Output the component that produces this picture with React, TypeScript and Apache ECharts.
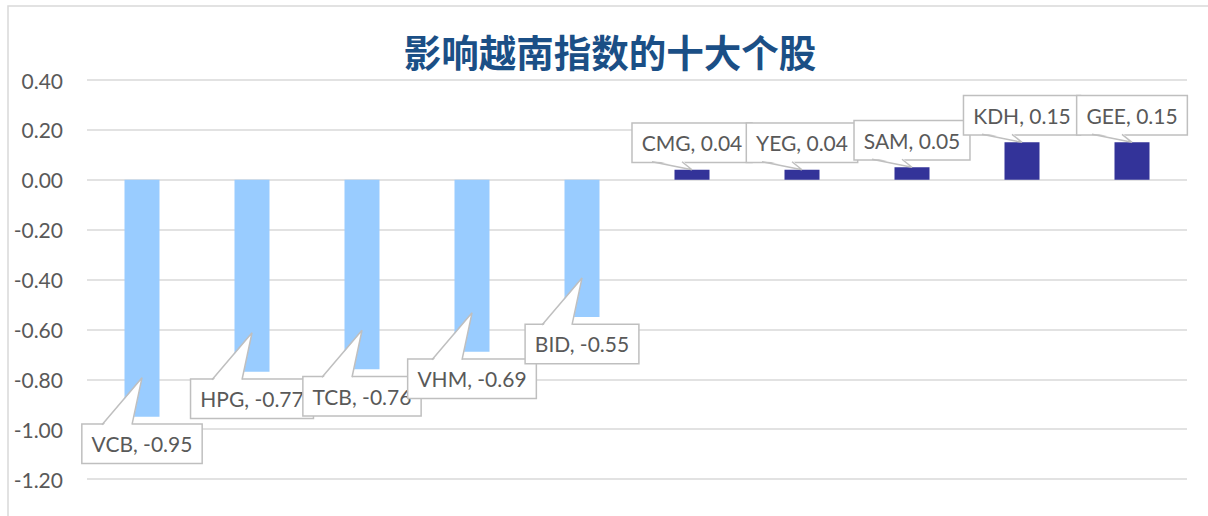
import React, { useEffect, useRef } from "react";
import * as echarts from "echarts";

const TITLE = "影响越南指数的十大个股";
const categories = ["VCB", "HPG", "TCB", "VHM", "BID", "CMG", "YEG", "SAM", "KDH", "GEE"];
const values = [-0.95, -0.77, -0.76, -0.69, -0.55, 0.04, 0.04, 0.05, 0.15, 0.15];
const yTicks = { min: -1.2, max: 0.4, interval: 0.2 };

const NEG_COLOR = "#99CCFF";
const POS_COLOR = "#333399";
const TEXT_COLOR = "#595959";
const GRID_COLOR = "#D9D9D9";
const BOX_BORDER = "#BFBFBF";
const FONT = "Lato, 'Open Sans', sans-serif";

export default function App() {
  const ref = useRef<HTMLDivElement>(null);
  useEffect(() => {
    document.body.style.margin = "0";
    const chart = echarts.init(ref.current!, null, { renderer: "svg" });
    const renderCallout = (params: any, api: any) => {
      const idx = params.dataIndex;
      const v = api.value(1);
      const p = api.coord([api.value(0), v]);
      const x = p[0];
      const y = p[1];
      const neg = v < 0;
      const baseY = neg ? y + 8 : y - 8;
      const tipY = neg ? y - 39 : y;
      const label = `${categories[idx]}, ${v.toFixed(2)}`;
      const dir = neg ? -1 : 1;
      return {
        type: "group",
        children: [
          {
            type: "text",
            x,
            y: baseY,
            style: {
              text: label,
              align: "center",
              verticalAlign: neg ? "top" : "bottom",
              fill: TEXT_COLOR,
              font: `21px ${FONT}`,
              lineHeight: 22,
              backgroundColor: "#ffffff",
              borderColor: BOX_BORDER,
              borderWidth: 1.5,
              padding: [8, 9, 8, 9],
            },
          },
          {
            type: "polygon",
            shape: {
              points: [
                [x - 40, baseY - dir * 2],
                [x, tipY],
                [x - 10, baseY - dir * 2],
              ],
            },
            style: { fill: "#ffffff", stroke: null },
          },
          {
            type: "polyline",
            shape: {
              points: [
                [x - 40, baseY],
                [x, tipY],
                [x - 10, baseY],
              ],
            },
            style: { fill: null, stroke: BOX_BORDER, lineWidth: 1.5 },
          },
        ],
      };
    };
    chart.setOption({
      animation: false,
      graphic: [
        {
          type: "rect",
          shape: { x: 8, y: 6, width: 1300, height: 600 },
          style: { fill: null, stroke: GRID_COLOR, lineWidth: 1.5 },
          z: -10,
        },
        {
          type: "text",
          x: 610,
          y: 50,
          style: {
            text: TITLE,
            align: "center",
            verticalAlign: "middle",
            fill: "#1B4F86",
            font: "bold 37.5px 'Noto Sans CJK SC', sans-serif",
          },
        },
      ],
      grid: { left: 87, right: 21, top: 80, bottom: 37 },
      xAxis: {
        type: "category",
        data: categories,
        axisLine: { show: false },
        axisTick: { show: false },
        axisLabel: { show: false },
      },
      yAxis: {
        type: "value",
        min: yTicks.min,
        max: yTicks.max,
        interval: yTicks.interval,
        axisLine: { show: false },
        axisTick: { show: false },
        axisLabel: {
          margin: 24,
          color: TEXT_COLOR,
          fontSize: 21,
          fontFamily: FONT,
          formatter: (v: number) => v.toFixed(2),
        },
        splitLine: { lineStyle: { color: GRID_COLOR, width: 1.5 } },
      },
      series: [
        {
          type: "bar",
          barWidth: 35,
          data: values.map((v) => ({
            value: v,
            itemStyle: { color: v < 0 ? NEG_COLOR : POS_COLOR },
          })),
          z: 2,
        },
        {
          type: "custom",
          renderItem: renderCallout,
          data: values.map((v, i) => [i, v]),
          z: 5,
          silent: true,
        },
      ],
    });
    return () => chart.dispose();
  }, []);
  return <div ref={ref} style={{ width: 1208, height: 516 }} />;
}
